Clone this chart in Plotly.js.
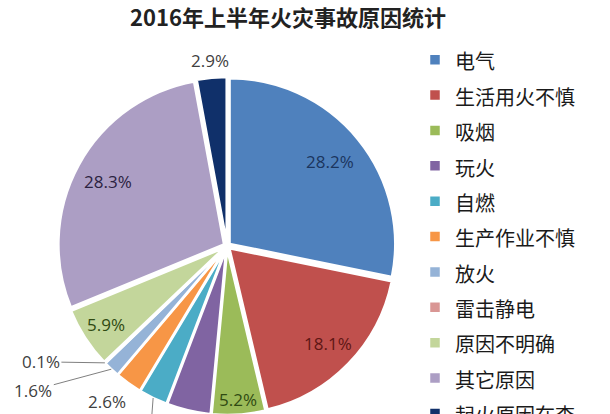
<!DOCTYPE html>
<html>
<head>
<meta charset="utf-8">
<script src="https://cdn.plot.ly/plotly-3.0.1.min.js"></script>
<style>
html,body{margin:0;padding:0;overflow:hidden;background:#fff;}
#chart{width:610px;height:540px;}
</style>
</head>
<body>
<div id="chart"></div>
<script>
const categories = ['电气','生活用火不慎','吸烟','玩火','自燃','生产作业不慎','放火','雷击静电','原因不明确','其它原因','起火原因在查'];
const shares = [28.2, 18.1, 5.2, 4.3, 2.8, 2.6, 1.6, 0.1, 5.9, 28.3, 2.9];
const sliceColors = ['#4F81BD','#C0504D','#9BBB59','#8064A2','#4BACC6','#F79646','#95B3D7','#D99694','#C3D69B','#AC9EC4','#10306A'];
const labelColors = ['#1B355E','#5E1614','#2F4A12','#404040','#404040','#404040','#404040','#404040','#2F4A12','#2B2240','#404040'];

const W = 610, H = 540;
const CX = 227, CY = 246, RAD = 169, PULL = 0.02;
const FONT = 'Open Sans, Noto Sans, sans-serif';
const legendLabels = categories.map(c => '<span style="font-size:20px">' + c + '</span>');

const trace = {
  type: 'pie',
  labels: legendLabels,
  values: shares,
  sort: false,
  direction: 'clockwise',
  rotation: 0,
  marker: {colors: sliceColors, line: {color: '#ffffff', width: 2.5}},
  pull: PULL,
  textinfo: 'none',
  hoverinfo: 'value',
  domain: {x: [(CX-RAD)/W, (CX+RAD)/W], y: [(H-CY-RAD)/H, (H-CY+RAD)/H]}
};

// point (page px) along a slice's mid angle, at a fraction of the outer radius
const total = shares.reduce((a, b) => a + b, 0);
function slicePoint(i, frac) {
  let before = 0;
  for (let k = 0; k < i; k++) before += shares[k];
  const ang = (before + shares[i] / 2) / total * 2 * Math.PI;
  return [CX + RAD * frac * Math.sin(ang), CY - RAD * frac * Math.cos(ang)];
}
function label(i, frac, dx, dy) {
  const p = slicePoint(i, frac);
  return {
    x: p[0] / W, y: 1 - p[1] / H, xref: 'paper', yref: 'paper',
    xanchor: 'center', yanchor: 'middle', showarrow: false,
    xshift: dx, yshift: -dy,
    text: shares[i].toFixed(1) + '%',
    font: {family: FONT, size: 17, color: labelColors[i]}
  };
}
function leader(i, ax, ay) {
  const p = slicePoint(i, 1.0);
  return {
    x: p[0] / W, y: 1 - p[1] / H, xref: 'paper', yref: 'paper',
    showarrow: true, ax: ax, ay: ay, arrowhead: 0, arrowwidth: 1,
    arrowcolor: '#808080', standoff: 0,
    text: shares[i].toFixed(1) + '%',
    font: {family: FONT, size: 17, color: labelColors[i]}
  };
}

const layout = {
  width: W, height: H,
  margin: {l: 0, r: 0, t: 0, b: 0},
  paper_bgcolor: '#ffffff',
  title: {
    text: '<b>2016年上半年火灾事故原因统计</b>',
    font: {family: 'Noto Sans CJK SC, sans-serif', size: 22, color: '#222222'},
    x: 288/W, xanchor: 'center', xref: 'paper',
    y: 1 - 18/H, yanchor: 'middle', yref: 'container'
  },
  showlegend: true,
  legend: {
    x: 415/W, xanchor: 'left',
    y: 1 - 37/H, yanchor: 'top',
    font: {family: 'Noto Sans CJK SC, sans-serif', size: 24.9, color: '#1a1a1a'},
    traceorder: 'normal',
    bgcolor: 'rgba(0,0,0,0)'
  },
  annotations: [
    label(0, 0.79, 0, 0),
    label(1, 0.83, 0, 0),
    label(2, 0.91, 0, 0),
    label(8, 0.85, 0, 0),
    label(9, 0.80, 0, 0),
    label(10, 1.1, 0, 0),
    label(5, 1.18, -4, -7),
    leader(7, -64, -1),
    leader(6, -78, 21),
    leader(4, -3, 40)
  ]
};

Plotly.newPlot('chart', [trace], layout, {displayModeBar: false, staticPlot: true});
</script>
</body>
</html>
